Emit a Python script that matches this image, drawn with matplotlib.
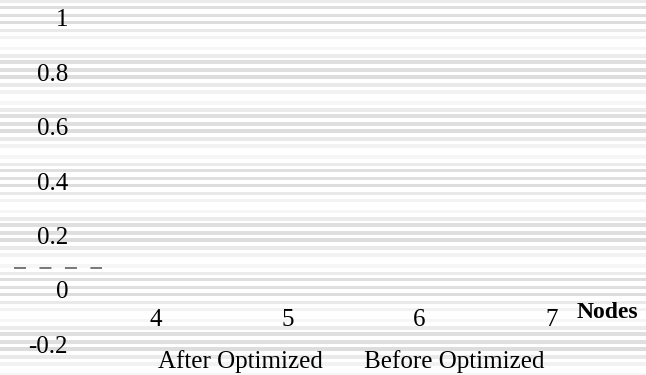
import matplotlib.pyplot as plt
import numpy as np

plt.rcParams['font.family'] = ['Liberation Serif', 'DejaVu Serif']

# data
nodes = [4, 5, 6, 7]
after_optimized = [None, None, None, None]
before_optimized = [None, None, None, None]
y_ticks = [-0.2, 0, 0.2, 0.4, 0.6, 0.8, 1]
y_tick_labels = ['-0.2', '0', '0.2', '0.4', '0.6', '0.8', '1']

# background stripe pattern, repeated once per 0.2 step (offsets in px below each tick)
stripe_offsets = [-16.5, -10.5, -2.5, 4.5, 12.5, 19.5, 30.5]
stripe_grays = ['#ebebeb', '#dfdfdf', '#dfdfdf', '#dddddd', '#e9e9e9', '#f2f2f2', '#f6f6f6']

px_per_unit = 272.0
fig = plt.figure(figsize=(6.46, 3.75), dpi=100)
ax = fig.add_axes([0, 0, 1, 1])
ax.set_xlim(2.815, 7.72)
ax.set_ylim(-0.3125, 1.066)

half = 1.8 / px_per_unit
for base in np.arange(-0.6, 1.4, 0.2):
    for off, g in zip(stripe_offsets, stripe_grays):
        c = base - off / px_per_unit
        ax.axhspan(c - half, c + half, color=g, lw=0, zorder=0)

ax.plot(nodes, after_optimized, color='white', label='After Optimized')
ax.plot(nodes, before_optimized, color='white', label='Before Optimized')

# leftover dashed mark at the left edge
lw = 1.1
ax.plot([14 / 646, 102 / 646], [0.2853, 0.2853], transform=ax.transAxes,
        color='#555555', lw=lw, dashes=[8.64 / lw, 9.7 / lw], clip_on=False)

for s in ax.spines.values():
    s.set_visible(False)

ax.set_xticks(nodes)
ax.set_xticklabels([str(n) for n in nodes])
ax.set_yticks(y_ticks)
ax.set_yticklabels(y_tick_labels)
ax.tick_params(axis='y', length=0, pad=-49, labelsize=18)
ax.tick_params(axis='x', length=0, pad=-47.5, labelsize=18)

ax.set_xlabel('Nodes', fontsize=17, fontweight='bold')
ax.xaxis.label.set_va('center')
ax.xaxis.set_label_coords(0.9396, 0.168)

ax.legend(loc='center', bbox_to_anchor=(0.544, 0.037), ncol=2, frameon=False,
          fontsize=18, handlelength=0, handletextpad=0, columnspacing=1.64)

fig.savefig('out.png', dpi=100)
